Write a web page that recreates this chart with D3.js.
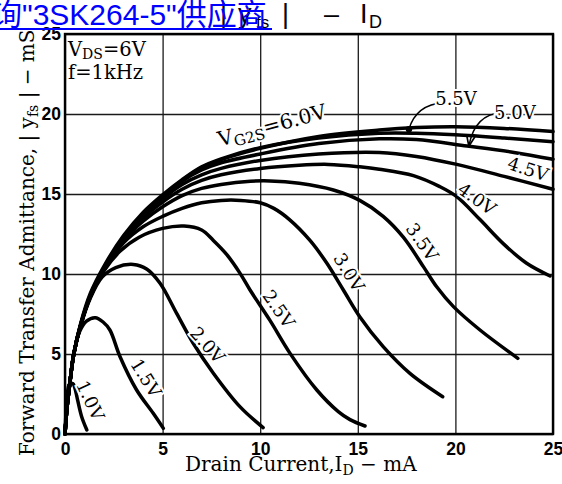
<!DOCTYPE html>
<html>
<head>
<meta charset="utf-8">
<script src="https://cdn.jsdelivr.net/npm/d3@7"></script>
<style>
body { margin: 0; background: #fff; }
svg { display: block; }
</style>
</head>
<body>
<div id="chart"></div>
<script>
var w = 562; // page width
var h = 484; // page height
var plotLeft = 65, plotRight = 553, plotTop = 34, plotBottom = 434;

// tick values on both axes
var xTicks = [0, 5, 10, 15, 20, 25];
var yTicks = [0, 5, 10, 15, 20, 25];

// gate-2 voltages, one curve each
var gateVolts = ["1.0V", "1.5V", "2.0V", "2.5V", "3.0V", "3.5V", "4.0V", "4.5V", "5.0V", "5.5V", "6.0V"];

// [I_D (mA), |yfs| (mS)]
var vg10 = [[0,0],[0.05,1.3],[0.12,2.5],[0.22,3.1],[0.4,3.15],[0.5,2.9],[0.65,2.1],[0.85,1.1],[1.12,0.25]];
var vg15 = [[0,0],[0.1,1.6],[0.25,3.2],[0.45,5.0],[0.75,6.4],[1.1,7.05],[1.55,7.27],[1.95,7.0],[2.3,6.5],[2.82,4.83],[3.67,2.75],[4.52,1.29],[5.04,0.35]];
var vg20 = [[0,0],[0.1,1.6],[0.25,3.2],[0.45,5.0],[0.8,6.75],[1.3,8.5],[1.9,9.8],[2.6,10.4],[3.5,10.6],[4.2,10.3],[4.87,9.42],[5.72,7.54],[6.57,5.67],[7.6,3.8],[8.96,1.71],[10.15,0.4]];
var vg25 = [[0,0],[0.1,1.6],[0.25,3.2],[0.45,5.0],[0.8,6.8],[1.3,8.6],[2,10.2],[2.8,11.4],[3.8,12.3],[5,12.85],[6.1,13.0],[7,12.75],[7.6,12.1],[8.3,11.2],[8.97,10.04],[9.48,9.0],[10.5,7.1],[11.53,5.04],[12.9,2.75],[14,1.4],[14.6,0.9],[15.37,0.5]];
var vg30 = [[0,0],[0.1,1.6],[0.25,3.2],[0.45,5.0],[0.8,6.8],[1.3,8.6],[2,10.25],[3,11.95],[4,12.95],[5,13.6],[6,14.1],[7,14.45],[8,14.6],[9,14.6],[10,14.45],[10.7,14.1],[11.5,13.4],[12.55,12.1],[13.4,10.7],[14.26,9.0],[15.1,7.33],[16.3,5.46],[17.67,3.79],[19.35,2.33]];
var vg35 = [[0,0],[0.1,1.6],[0.25,3.2],[0.45,5.0],[0.8,6.8],[1.3,8.6],[2,10.3],[3,12.1],[4,13.3],[5,14.2],[6,14.9],[7,15.35],[8,15.6],[9.5,15.8],[10.5,15.82],[12,15.67],[13.75,15.25],[15.1,14.6],[16.3,13.6],[17.33,12.3],[18.36,10.46],[19.04,9.2],[19.9,7.96],[21.26,6.5],[23.2,4.73]];
var vg40 = [[0,0],[0.1,1.6],[0.25,3.2],[0.45,5.0],[0.8,6.8],[1.3,8.6],[2,10.3],[3,12.15],[4,13.5],[5,14.5],[6,15.3],[7,15.85],[8,16.2],[10,16.6],[12,16.8],[13.5,16.85],[15.1,16.7],[16.1,16.55],[17.85,16.15],[19.2,15.46],[20.07,14.83],[21.26,13.4],[22.45,11.9],[23.65,10.67],[24.85,9.875]];
var vg45 = [[0,0],[0.1,1.6],[0.25,3.2],[0.45,5.0],[0.8,6.8],[1.3,8.6],[2,10.3],[3,12.2],[4,13.6],[5,14.7],[6,15.6],[7,16.2],[8,16.6],[10,17.1],[13,17.5],[16.1,17.6],[18,17.35],[20.07,16.85],[22.5,16.1],[25,15.3]];
var vg50 = [[0,0],[0.1,1.6],[0.25,3.2],[0.45,5.0],[0.8,6.8],[1.3,8.6],[2,10.3],[3,12.25],[4,13.7],[5,14.8],[6,15.8],[7,16.5],[8,16.95],[10,17.5],[13,18.15],[16.1,18.45],[18,18.4],[20.6,18.0],[23,17.6],[25,17.17]];
var vg55 = [[0,0],[0.1,1.6],[0.25,3.2],[0.45,5.0],[0.8,6.85],[1.3,8.7],[2,10.4],[3,12.3],[4,13.75],[5,14.85],[6,15.85],[7,16.65],[8,17.15],[10,17.85],[13,18.6],[16.1,19.0],[18,19.15],[20,19.2],[22.5,19.1],[25,18.9]];
var vg60 = [[0,0],[0.1,1.6],[0.25,3.2],[0.45,5.0],[0.8,6.9],[1.3,8.8],[2,10.5],[3,12.4],[4,13.85],[5,14.95],[6,15.9],[7,16.7],[8,17.2],[10,17.9],[13,18.5],[16.1,18.8],[18,18.8],[20,18.7],[22.5,18.5],[25,18.27]];

var allCurves = [vg10, vg15, vg20, vg25, vg30, vg35, vg40, vg45, vg50, vg55, vg60];

// where each curve label sits (data units) and its rotation
var labelSpots = [
    { v: 0, x: 1.3, y: 2.1, a: 65 },
    { v: 1, x: 4.15, y: 3.5, a: 58 },
    { v: 2, x: 7.3, y: 5.56, a: 48 },
    { v: 3, x: 10.95, y: 7.81, a: 55 },
    { v: 4, x: 14.55, y: 10.1, a: 58 },
    { v: 5, x: 18.3, y: 12.0, a: 55 },
    { v: 6, x: 21.1, y: 14.7, a: 35 },
    { v: 7, x: 23.72, y: 16.56, a: 18 },
    { v: 8, x: 23.05, y: 20.1, a: 0 },
    { v: 9, x: 20.03, y: 20.94, a: 0 }
];

var serif = "'DejaVu Serif', 'Liberation Serif', serif";
var sans = "'Liberation Sans', Arial, sans-serif";

function drawChart() {
    var svg = d3.select("#chart").append("svg")
        .attr("width", w)
        .attr("height", h);

    svg.append("defs").append("marker")
        .attr("id", "arrow")
        .attr("viewBox", "0 0 10 10")
        .attr("refX", 9).attr("refY", 5)
        .attr("markerWidth", 7).attr("markerHeight", 7)
        .attr("orient", "auto")
        .append("path")
        .attr("d", "M0,1 L10,5 L0,9")
        .attr("fill", "none")
        .attr("stroke", "#000")
        .attr("stroke-width", 1.6);

    var x = d3.scaleLinear().domain([0, 25]).range([plotLeft, plotRight]);
    var y = d3.scaleLinear().domain([0, 25]).range([plotBottom, plotTop]);

    // grid via axes
    var xAxis = svg.append("g")
        .attr("transform", "translate(0," + plotBottom + ")")
        .call(d3.axisBottom(x).tickValues(xTicks).tickSize(-(plotBottom - plotTop)).tickPadding(9));
    var yAxis = svg.append("g")
        .attr("transform", "translate(" + plotLeft + ",0)")
        .call(d3.axisLeft(y).tickValues(yTicks).tickSize(-(plotRight - plotLeft)).tickPadding(4));

    [xAxis, yAxis].forEach(function(g) {
        g.select(".domain").remove();
        g.selectAll(".tick line").attr("stroke", "#1a1a1a").attr("stroke-width", 1.3);
        g.selectAll(".tick text")
            .attr("fill", "#000")
            .style("font-family", sans)
            .style("font-weight", "bold")
            .style("font-size", "17.5px");
    });

    // frame
    svg.append("rect")
        .attr("x", plotLeft).attr("y", plotTop)
        .attr("width", plotRight - plotLeft)
        .attr("height", plotBottom - plotTop)
        .attr("fill", "none")
        .attr("stroke", "#000")
        .attr("stroke-width", 2.4);

    var line = d3.line()
        .x(function(d) { return x(d[0]); })
        .y(function(d) { return y(d[1]); })
        .curve(d3.curveCatmullRom.alpha(0.5));

    svg.append("g").selectAll("path")
        .data(allCurves)
        .enter()
        .append("path")
        .attr("d", line)
        .attr("fill", "none")
        .attr("stroke", "#000")
        .attr("stroke-width", 3.5)
        .attr("stroke-linecap", "round")
        .attr("stroke-linejoin", "round");

    // leaders for 5.5V and 5.0V
    svg.append("path")
        .attr("d", "M" + x(19.4) + "," + y(20.7) + " Q" + x(18.0) + "," + y(20.6) + " " + x(17.62) + "," + y(19.05))
        .attr("fill", "none").attr("stroke", "#000").attr("stroke-width", 1.5);
    svg.append("circle")
        .attr("cx", x(17.62)).attr("cy", y(19.05)).attr("r", 3.2).attr("fill", "#000");
    svg.append("path")
        .attr("d", "M" + x(22.4) + "," + y(20.1) + " Q" + x(21.0) + "," + y(20.0) + " " + x(20.7) + "," + y(18.05))
        .attr("fill", "none").attr("stroke", "#000").attr("stroke-width", 1.5)
        .attr("marker-end", "url(#arrow)");

    // curve labels
    svg.append("g").selectAll("text")
        .data(labelSpots)
        .enter()
        .append("text")
        .attr("transform", function(d) { return "translate(" + x(d.x) + "," + y(d.y) + ") rotate(" + d.a + ")"; })
        .attr("text-anchor", "middle")
        .attr("dy", "0.35em")
        .attr("paint-order", "stroke")
        .attr("stroke", "#fff")
        .attr("stroke-width", 4)
        .attr("fill", "#000")
        .style("font-family", serif)
        .style("font-size", "18px")
        .text(function(d) { return gateVolts[d.v]; });

    // VG2S = 6.0V label
    var g6 = svg.append("text")
        .attr("transform", "translate(" + x(10.6) + "," + y(19.3) + ") rotate(-15)")
        .attr("text-anchor", "middle")
        .attr("dy", "0.35em")
        .attr("paint-order", "stroke")
        .attr("stroke", "#fff")
        .attr("stroke-width", 4)
        .attr("fill", "#000")
        .style("font-family", serif)
        .style("font-size", "20.5px");
    g6.append("tspan").text("V");
    g6.append("tspan").attr("dy", 4).style("font-size", "15px").text("G2S");
    g6.append("tspan").attr("dy", -4).text("=" + gateVolts[10]);

    // conditions text
    var c1 = svg.append("text")
        .attr("x", plotLeft + 3).attr("y", 56)
        .style("font-family", serif).style("font-size", "19.5px");
    c1.append("tspan").text("V");
    c1.append("tspan").attr("dy", 3).style("font-size", "14px").text("DS");
    c1.append("tspan").attr("dy", -3).text("=6V");
    svg.append("text")
        .attr("x", plotLeft + 3).attr("y", 79)
        .style("font-family", serif).style("font-size", "19.5px")
        .text("f=1kHz");

    // x axis title
    var xt = svg.append("text")
        .attr("x", 185).attr("y", 471)
        .style("font-family", serif).style("font-size", "20px");
    xt.append("tspan").text("Drain Current,I");
    xt.append("tspan").attr("dy", 4).style("font-size", "14px").text("D");
    xt.append("tspan").attr("dy", -4).text(" \u2212 mA");

    // y axis title
    var yt = svg.append("text")
        .attr("transform", "translate(34,456) rotate(-90)")
        .style("font-family", serif).style("font-size", "20px");
    yt.append("tspan").text("Forward Transfer Admittance, | y");
    yt.append("tspan").attr("dy", 4).style("font-size", "14px").text("fs");
    yt.append("tspan").attr("dy", -4).text(" |  \u2212  mS");

    // title (partly covered by the blue overlay)
    var tt = svg.append("g").style("font-family", sans).attr("fill", "#000");
    tt.append("text").attr("x", 220).attr("y", 23).style("font-size", "27px").text("|");
    tt.append("text").attr("x", 238).attr("y", 23).style("font-size", "27px").text("y");
    tt.append("text").attr("x", 256).attr("y", 28).style("font-size", "17px").text("fs");
    tt.append("text").attr("x", 282).attr("y", 23).style("font-size", "27px").text("|");
    tt.append("text").attr("x", 324).attr("y", 23).style("font-size", "27px").text("\u2013");
    tt.append("text").attr("x", 360).attr("y", 23).style("font-size", "27px").text("I");
    tt.append("text").attr("x", 369).attr("y", 28).style("font-size", "18px").text("D");

    // blue overlay link text
    svg.append("text")
        .attr("x", -8).attr("y", 25)
        .attr("fill", "#0000ff")
        .style("font-family", "'Liberation Sans', 'Noto Sans CJK SC', sans-serif")
        .style("font-size", "30px")
        .text("\u8be2\"3SK264-5\"\u4f9b\u5e94\u5546");
    svg.append("line")
        .attr("x1", 0).attr("x2", 272)
        .attr("y1", 29).attr("y2", 29)
        .attr("stroke", "#0000ff").attr("stroke-width", 2);
}

drawChart();
</script>
</body>
</html>
